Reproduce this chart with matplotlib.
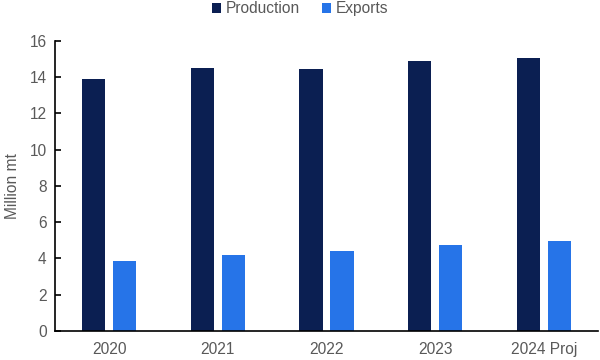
import numpy as np
import matplotlib.pyplot as plt

plt.rcParams['font.family'] = ['Liberation Sans', 'DejaVu Sans']

years = ['2020', '2021', '2022', '2023', '2024 Proj']
production = [13.89, 14.49, 14.44, 14.88, 15.06]
exports = [3.85, 4.19, 4.41, 4.74, 4.95]

DARK = '#0b1f52'
LIGHT = '#2674e8'
GREY = '#595959'
FS = 11.2


def main():
    fig = plt.figure(figsize=(6, 3.6), dpi=100)
    ax = fig.add_axes([0.0917, 0.0806, 0.905, 0.8055])

    x = np.arange(len(years))
    w = 0.214
    off = 0.143
    ax.bar(x - off, production, w, color=DARK, label='Production')
    ax.bar(x + off, exports, w, color=LIGHT, label='Exports')

    ax.set_xlim(-0.5, len(years) - 0.5)
    ax.set_ylim(0, 16)
    ax.set_yticks(range(0, 17, 2))
    ax.set_xticks(x)
    ax.set_xticklabels(years)

    for side in ('top', 'right'):
        ax.spines[side].set_visible(False)
    for side in ('left', 'bottom'):
        ax.spines[side].set_linewidth(1.2)
        ax.spines[side].set_color('black')

    ax.tick_params(axis='y', direction='in', length=4, width=1.2,
                   labelsize=FS, labelcolor=GREY, pad=6)
    ax.tick_params(axis='x', length=0, labelsize=FS, labelcolor=GREY, pad=8)
    ax.set_ylabel('Million mt', fontsize=FS, color=GREY, labelpad=7)

    fig.legend(loc='upper center', bbox_to_anchor=(0.5, 1.035), ncol=2,
               frameon=False, fontsize=FS, handlelength=0.6,
               handleheight=0.6, handletextpad=0.3, columnspacing=1.4,
               labelcolor=GREY)

    fig.savefig('out.png', dpi=100)


if __name__ == '__main__':
    main()
